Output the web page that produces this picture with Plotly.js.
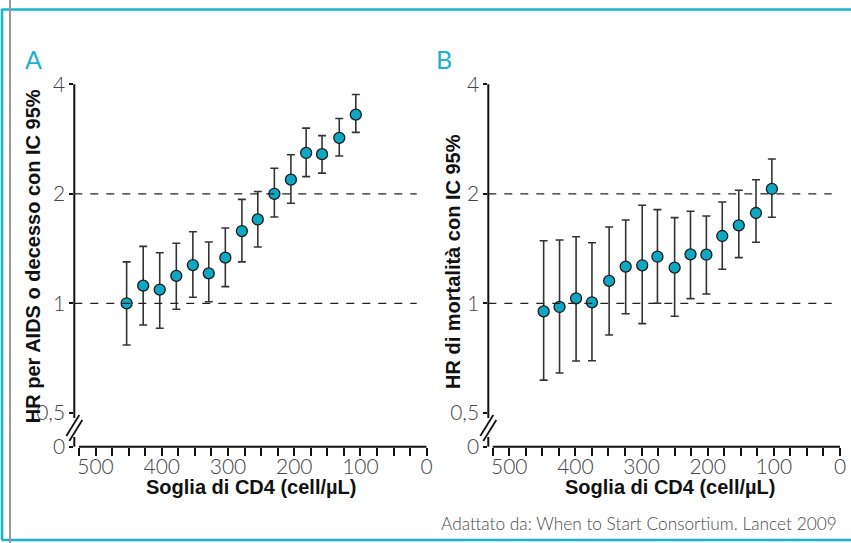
<!DOCTYPE html>
<html>
<head>
<meta charset="utf-8">
<script src="https://cdn.plot.ly/plotly-3.0.1.min.js"></script>
<style>html,body{margin:0;padding:0;background:#fff;}#chart{width:851px;height:543px;}</style>
</head>
<body>
<div id="chart"></div>
<script>
// ---- Data ----
// Panel A: HR per AIDS o decesso
const cd4A   = [453, 428, 403, 378, 353, 329, 304, 279, 255, 230, 205, 182, 158, 132, 107];
const hrA    = [1.00, 1.118, 1.09, 1.19, 1.274, 1.209, 1.335, 1.58, 1.70, 2.00, 2.187, 2.59, 2.57, 2.85, 3.30];
const upperA = [1.30, 1.434, 1.377, 1.462, 1.573, 1.474, 1.611, 1.93, 2.03, 2.35, 2.56, 3.03, 2.89, 3.22, 3.75];
const lowerA = [0.768, 0.872, 0.854, 0.963, 1.039, 1.01, 1.111, 1.30, 1.428, 1.727, 1.883, 2.23, 2.28, 2.54, 2.95];

// Panel B: HR di mortalità
const cd4B   = [448, 424, 399, 375, 349, 324, 299, 276, 250, 226, 202, 178, 153, 127, 103];
const hrB    = [0.95, 0.977, 1.032, 1.006, 1.152, 1.261, 1.272, 1.343, 1.253, 1.363, 1.36, 1.531, 1.638, 1.771, 2.062];
const upperB = [1.486, 1.493, 1.524, 1.467, 1.621, 1.694, 1.86, 1.809, 1.72, 1.79, 1.738, 1.899, 2.045, 2.187, 2.493];
const lowerB = [0.615, 0.643, 0.694, 0.695, 0.818, 0.936, 0.879, 1.0, 0.921, 1.03, 1.061, 1.24, 1.335, 1.471, 1.724];

// Axis ticks / labels
const yTickVals = [0.4034, 0.5, 1, 2, 4];
const yTickText = ['0', '0,5', '1', '2', '4'];
const refLines = [1, 2];
const xAxisEnd = 525;

const panelLetters = ['A', 'B'];
const yTitles = ['HR per AIDS o decesso con IC 95%', 'HR di mortalità con IC 95%'];
const xTitle = 'Soglia di CD4 (cell/µL)';
const sourceText = 'Adattato da: When to Start Consortium. Lancet 2009';

// ---- Styling ----
const W = 851, H = 543;
const P = px => px / W;
const Q = py => 1 - py / H;
const CYAN = '#17b3cc';
const MARK = '#0fa8c2';
const INK = '#111';
const tickFont = {family: 'Lato, "Open Sans", sans-serif', size: 21, color: '#444', weight: 300};
const boldFont = {family: '"Liberation Sans", Arial, sans-serif', size: 20, color: INK, weight: 'bold'};

function trace(x, y, up, lo, xa, ya) {
  return {
    type: 'scatter', mode: 'markers', x: x, y: y, xaxis: xa, yaxis: ya,
    cliponaxis: false,
    marker: {size: 11, color: MARK, line: {color: '#1a1a1a', width: 1.3}},
    error_y: {
      type: 'data', symmetric: false,
      array: up.map((u, i) => u - y[i]),
      arrayminus: lo.map((l, i) => y[i] - l),
      color: '#333', thickness: 1.6, width: 4
    },
    hoverinfo: 'x+y'
  };
}

const data = [
  trace(cd4A, hrA, upperA, lowerA, 'x', 'y'),
  trace(cd4B, hrB, upperB, lowerB, 'x2', 'y2')
];

function xaxis(domain, rng) {
  return {
    domain: domain, range: rng, showgrid: false, zeroline: false, showline: false,
    tickmode: 'linear', tick0: 0, dtick: 100,
    ticks: 'outside', ticklen: 8, tickwidth: 2, tickcolor: INK,
    minor: {tick0: 0, dtick: 25, ticks: 'outside', ticklen: 8, tickwidth: 2, tickcolor: INK, showgrid: false},
    tickfont: tickFont, ticklabelstandoff: -7, fixedrange: true
  };
}
function yaxis(anchor) {
  return {
    type: 'log', domain: [Q(446.7), Q(84.3)], range: [Math.log10(0.4034), Math.log10(4)],
    anchor: anchor, showgrid: false, zeroline: false, showline: false,
    tickmode: 'array', tickvals: yTickVals, ticktext: yTickText,
    ticks: 'outside', ticklen: 4, tickwidth: 2, tickcolor: INK,
    tickfont: tickFont, fixedrange: true
  };
}

const shapes = [];
// frame
shapes.push({type: 'line', xref: 'paper', yref: 'paper', x0: P(2), x1: P(851), y0: Q(9.5), y1: Q(9.5), line: {color: CYAN, width: 2.5}});
shapes.push({type: 'line', xref: 'paper', yref: 'paper', x0: P(2), x1: P(2), y0: Q(9), y1: Q(540), line: {color: CYAN, width: 2.5}});
shapes.push({type: 'line', xref: 'paper', yref: 'paper', x0: P(2), x1: P(851), y0: Q(540), y1: Q(540), line: {color: CYAN, width: 2.5}});
shapes.push({type: 'line', xref: 'paper', yref: 'paper', x0: P(10), x1: P(10), y0: Q(0), y1: Q(543), line: {color: '#9a9a9a', width: 2}});

const axes = [{x: 'x', y: 'y', px: 74.3, dashEnd: 0.9716}, {x: 'x2', y: 'y2', px: 488.3, dashEnd: 0.9764}];
const dom = py => (446.7 - py) / 362.4;
axes.forEach(a => {
  // y axis line with break
  shapes.push({type: 'line', xref: a.x + ' domain', yref: a.y + ' domain', x0: 0, x1: 0, y0: 1, y1: dom(418), line: {color: INK, width: 2}});
  shapes.push({type: 'line', xref: a.x + ' domain', yref: a.y + ' domain', x0: 0, x1: 0, y0: dom(437), y1: 0, line: {color: INK, width: 2}});
  // break marks
  shapes.push({type: 'line', xref: 'paper', yref: 'paper', x0: P(a.px - 8), y0: Q(436), x1: P(a.px + 5), y1: Q(415), line: {color: INK, width: 1.8}});
  shapes.push({type: 'line', xref: 'paper', yref: 'paper', x0: P(a.px - 5), y0: Q(441), x1: P(a.px + 8), y1: Q(420), line: {color: INK, width: 1.8}});
  // x axis line
  shapes.push({type: 'line', xref: a.x, yref: a.y + ' domain', x0: xAxisEnd, x1: 0, y0: 0, y1: 0, line: {color: INK, width: 2}});
  // reference dashed lines
  refLines.forEach(r => {
    shapes.push({type: 'line', xref: a.x + ' domain', yref: a.y, x0: 0, x1: a.dashEnd, y0: r, y1: r, line: {color: '#222', width: 1.3, dash: '8px,8px'}});
  });
});

const letterFont = {family: 'Lato, "Open Sans", sans-serif', size: 25, color: CYAN, weight: 400};
const annotations = [
  {text: panelLetters[0], x: P(33.3), y: Q(59), xref: 'paper', yref: 'paper', showarrow: false, xanchor: 'center', yanchor: 'middle', font: letterFont},
  {text: panelLetters[1], x: P(444), y: Q(59), xref: 'paper', yref: 'paper', showarrow: false, xanchor: 'center', yanchor: 'middle', font: letterFont},
  {text: yTitles[0], x: P(32.5), y: Q(256.7), xref: 'paper', yref: 'paper', showarrow: false, textangle: -90, xanchor: 'center', yanchor: 'middle', font: boldFont},
  {text: yTitles[1], x: P(452.5), y: Q(261.5), xref: 'paper', yref: 'paper', showarrow: false, textangle: -90, xanchor: 'center', yanchor: 'middle', font: boldFont},
  {text: xTitle, x: P(251), y: Q(487.3), xref: 'paper', yref: 'paper', showarrow: false, xanchor: 'center', yanchor: 'middle', font: boldFont},
  {text: xTitle, x: P(669.7), y: Q(486.7), xref: 'paper', yref: 'paper', showarrow: false, xanchor: 'center', yanchor: 'middle', font: boldFont},
  {text: sourceText, x: P(839.3), y: Q(523.3), xref: 'paper', yref: 'paper', showarrow: false, xanchor: 'right', yanchor: 'middle', font: {family: 'Lato, "Open Sans", sans-serif', size: 17.3, color: '#4a4a4a', weight: 300}}
];

const layout = {
  width: W, height: H,
  margin: {l: 0, r: 0, t: 0, b: 0, pad: 0},
  paper_bgcolor: '#fff', plot_bgcolor: 'rgba(0,0,0,0)',
  showlegend: false,
  xaxis: Object.assign(xaxis([P(74.3), P(426.7)], [532, 0]), {anchor: 'y'}),
  xaxis2: Object.assign(xaxis([P(488.3), P(840)], [531.7, 0]), {anchor: 'y2'}),
  yaxis: yaxis('x'),
  yaxis2: yaxis('x2'),
  shapes: shapes,
  annotations: annotations
};

Plotly.newPlot('chart', data, layout, {staticPlot: true, displayModeBar: false});
</script>
</body>
</html>
